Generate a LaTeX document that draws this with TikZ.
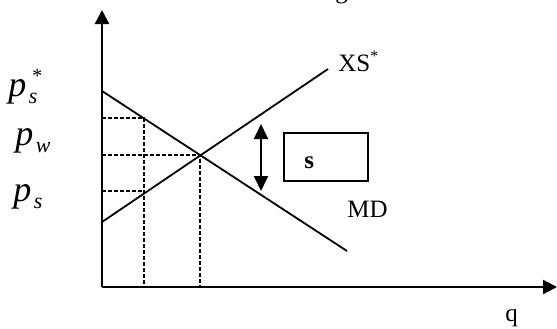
\documentclass[tikz,border=0pt]{standalone}
\usepackage{fontspec}
\setmainfont{Liberation Serif}
\usetikzlibrary{arrows.meta}
\newcommand{\pbig}{\fontsize{18}{18}\selectfont\itshape p}
\newcommand{\psub}[1]{\raisebox{-3.5pt}{\fontsize{11}{11}\selectfont\itshape\hspace{1.2pt}#1}}
\newcommand{\pstar}{\rlap{\raisebox{7pt}{\fontsize{10}{10}\selectfont\hspace{2.5pt}*}}}
\begin{document}
\begin{tikzpicture}[x=0.5pt,y=-0.5pt,
    axis/.style={line width=1.1pt,-{Triangle[length=7pt,width=7pt]}},
    curve/.style={line width=0.9pt},
    guide/.style={line width=0.75pt,dash pattern=on 2pt off 1pt},
    lab/.style={inner sep=0pt,anchor=base west,font=\fontsize{12.5}{12.5}\selectfont}]
  \useasboundingbox (0,0) rectangle (557,328);
  % axes
  \coordinate (O) at (102,287);
  \coordinate (ytop) at (102,10);
  \coordinate (xend) at (557,287);
  \draw[axis] (O) -- (ytop);
  \draw[axis] (O) -- (xend);
  % demand and supply
  \coordinate (md1) at (102,91);
  \coordinate (md2) at (347,251);
  \coordinate (xs1) at (102,222);
  \coordinate (xs2) at (328,69);
  \draw[curve] (md1) -- (md2);
  \draw[curve] (xs1) -- (xs2);
  % price levels
  \coordinate (A) at (144,118);
  \coordinate (B) at (144,191);
  \coordinate (E) at (200,155);
  \draw[guide] (O |- A) -- (A) -- (A |- O);
  \draw[guide] (O |- B) -- (B);
  \draw[guide] (O |- E) -- (E) -- (E |- O);
  % subsidy
  \coordinate (gtop) at (261,124);
  \coordinate (gbot) at (261,191);
  \draw[line width=0.9pt,{Triangle[length=7.5pt,width=7pt]}-{Triangle[length=7.5pt,width=7pt]}] (gtop) -- (gbot);
  \node[draw,line width=0.8pt,minimum width=42pt,minimum height=24pt,inner sep=0pt] (sbox) at (326,157) {};
  \node[lab,font=\fontsize{12.5}{12.5}\selectfont\bfseries] (slab) at (304,168) {s};
  % labels
  \node[lab] (xslab) at (338,71) {XS\raisebox{5pt}{\fontsize{8}{8}\selectfont *}};
  \node[lab] (mdlab) at (347,217) {MD};
  \node[lab] (qlab) at (505,321) {q};
  \node[lab] (title) at (335,-2) {g};
  \node[inner sep=0pt,anchor=base west] (pss) at (8,96) {\pbig\pstar\psub{s}};
  \node[inner sep=0pt,anchor=base west] (pw) at (15,145) {\pbig\psub{w}};
  \node[inner sep=0pt,anchor=base west] (ps) at (13,201) {\pbig\psub{s}};
\end{tikzpicture}
\end{document}
